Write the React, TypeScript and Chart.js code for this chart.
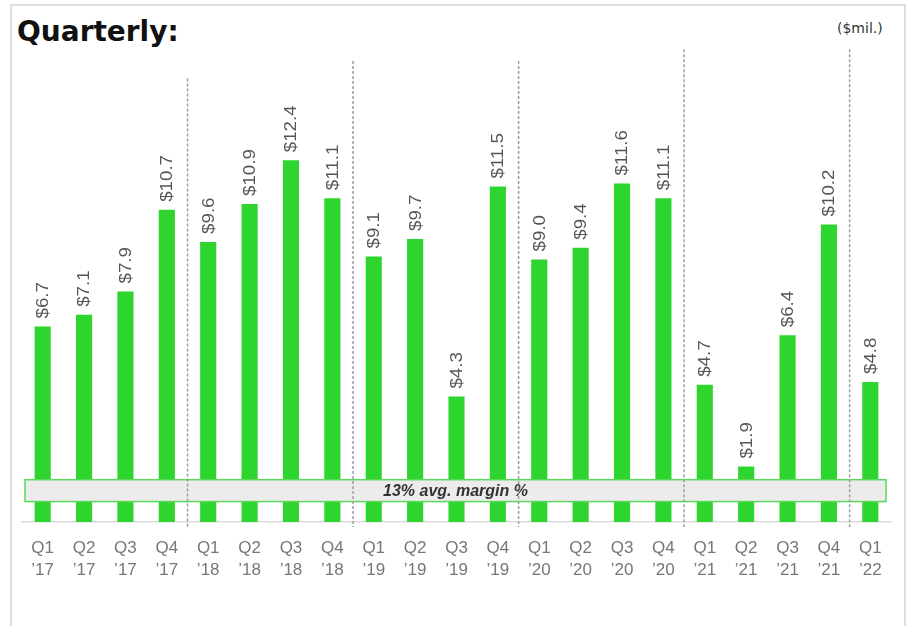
import React, { useEffect, useRef } from "react";
import { Chart, registerables } from "chart.js";

Chart.register(...registerables);

// Quarterly figures, $ millions
const quarters = ["Q1", "Q2", "Q3", "Q4", "Q1", "Q2", "Q3", "Q4", "Q1", "Q2", "Q3", "Q4", "Q1", "Q2", "Q3", "Q4", "Q1", "Q2", "Q3", "Q4", "Q1"];
const years = ["’17", "’17", "’17", "’17", "’18", "’18", "’18", "’18", "’19", "’19", "’19", "’19", "’20", "’20", "’20", "’20", "’21", "’21", "’21", "’21", "’22"];
const values = [6.7, 7.1, 7.9, 10.7, 9.6, 10.9, 12.4, 11.1, 9.1, 9.7, 4.3, 11.5, 9.0, 9.4, 11.6, 11.1, 4.7, 1.9, 6.4, 10.2, 4.8];
const bandText = "13% avg. margin %";

// Year dividers: index of the last quarter of each year, and how tall the line runs (in axis units)
const yearEnds = [3, 7, 11, 15, 19];
const dividerTops = [15.2, 15.8, 15.8, 16.2, 16.2];

const GREEN = "#2fd52f";

const valueLabels = {
  id: "valueLabels",
  afterDatasetsDraw(chart: any) {
    const { ctx } = chart;
    const meta = chart.getDatasetMeta(0);
    ctx.save();
    ctx.fillStyle = "#555555";
    ctx.font = "16px 'Liberation Sans', Arial, sans-serif";
    ctx.textAlign = "left";
    ctx.textBaseline = "middle";
    meta.data.forEach((bar: any, i: number) => {
      ctx.save();
      ctx.translate(bar.x + 1, bar.y - 8);
      ctx.rotate(-Math.PI / 2);
      ctx.scale(1.17, 1);
      ctx.fillText("$" + values[i].toFixed(1), 0, 0);
      ctx.restore();
    });
    ctx.restore();
  },
};

const marginBand = {
  id: "marginBand",
  afterDatasetsDraw(chart: any) {
    const { ctx, chartArea, scales } = chart;
    const yTop = scales.y.getPixelForValue(1.45);
    const yBot = scales.y.getPixelForValue(0.7);
    const x0 = chartArea.left + 3;
    const x1 = chartArea.right - 5;
    ctx.save();
    ctx.fillStyle = "#ececec";
    ctx.fillRect(x0, yTop, x1 - x0, yBot - yTop);
    ctx.strokeStyle = "#5ad85a";
    ctx.lineWidth = 1.5;
    ctx.strokeRect(x0, yTop, x1 - x0, yBot - yTop);
    ctx.fillStyle = "#333333";
    ctx.font = "italic bold 16px 'Liberation Sans', Arial, sans-serif";
    ctx.textAlign = "center";
    ctx.textBaseline = "middle";
    ctx.fillText(bandText, (x0 + x1) / 2, (yTop + yBot) / 2 + 1);
    ctx.restore();
  },
};

const yearDividers = {
  id: "yearDividers",
  afterDatasetsDraw(chart: any) {
    const { ctx, scales, chartArea } = chart;
    ctx.save();
    ctx.strokeStyle = "#a39aa8";
    ctx.lineWidth = 1.5;
    ctx.setLineDash([3, 2]);
    yearEnds.forEach((idx, k) => {
      const x = (scales.x.getPixelForValue(idx) + scales.x.getPixelForValue(idx + 1)) / 2;
      const top = scales.y.getPixelForValue(dividerTops[k]);
      ctx.beginPath();
      ctx.moveTo(x, top);
      ctx.lineTo(x, chartArea.bottom + 5);
      ctx.stroke();
    });
    ctx.restore();
  },
};

export default function App() {
  const canvasRef = useRef<HTMLCanvasElement>(null);

  useEffect(() => {
    const canvas = canvasRef.current;
    if (!canvas) return;
    const chart = new Chart(canvas, {
      type: "bar",
      data: {
        labels: quarters.map((q, i) => [q, years[i]]),
        datasets: [
          {
            data: values,
            backgroundColor: GREEN,
            borderWidth: 0,
            barPercentage: 0.39,
            categoryPercentage: 1,
          },
        ],
      },
      options: {
        responsive: false,
        animation: false,
        layout: { padding: { left: 22, right: 21, top: 26, bottom: 34 } },
        plugins: { legend: { display: false }, tooltip: { enabled: false } },
        scales: {
          y: { display: false, min: 0, max: 17 },
          x: {
            grid: { display: false, drawTicks: false },
            border: { display: true, color: "#dddddd", width: 1.5 },
            ticks: {
              color: "#777777",
              padding: 15,
              maxRotation: 0,
              autoSkip: false,
              font: { family: "'Liberation Sans', Arial, sans-serif", size: 17, lineHeight: 1.3 },
            },
            afterFit: (scale: any) => {
              scale.height = 70;
            },
          },
        },
      },
      plugins: [valueLabels, marginBand, yearDividers],
    });
    return () => chart.destroy();
  }, []);

  return (
    <div style={{ position: "fixed", left: 0, top: 0, width: 912, height: 626, background: "#ffffff", overflow: "hidden" }}>
      <div
        style={{
          position: "absolute",
          left: 10,
          top: 4,
          width: 896,
          height: 660,
          border: "2px solid #dedede",
          boxSizing: "border-box",
        }}
      />
      <div
        style={{
          position: "absolute",
          left: 17,
          top: 12,
          fontFamily: "'DejaVu Sans', sans-serif",
          fontWeight: 700,
          fontSize: 28,
          color: "#111111",
          lineHeight: "40px",
        }}
      >
        Quarterly:
      </div>
      <div
        style={{
          position: "absolute",
          left: 837,
          top: 18,
          fontFamily: "'DejaVu Sans', sans-serif",
          fontSize: 14,
          color: "#333333",
          lineHeight: "20px",
        }}
      >
        ($mil.)
      </div>
      <canvas ref={canvasRef} width={912} height={626} style={{ position: "absolute", left: 0, top: 0 }} />
    </div>
  );
}
